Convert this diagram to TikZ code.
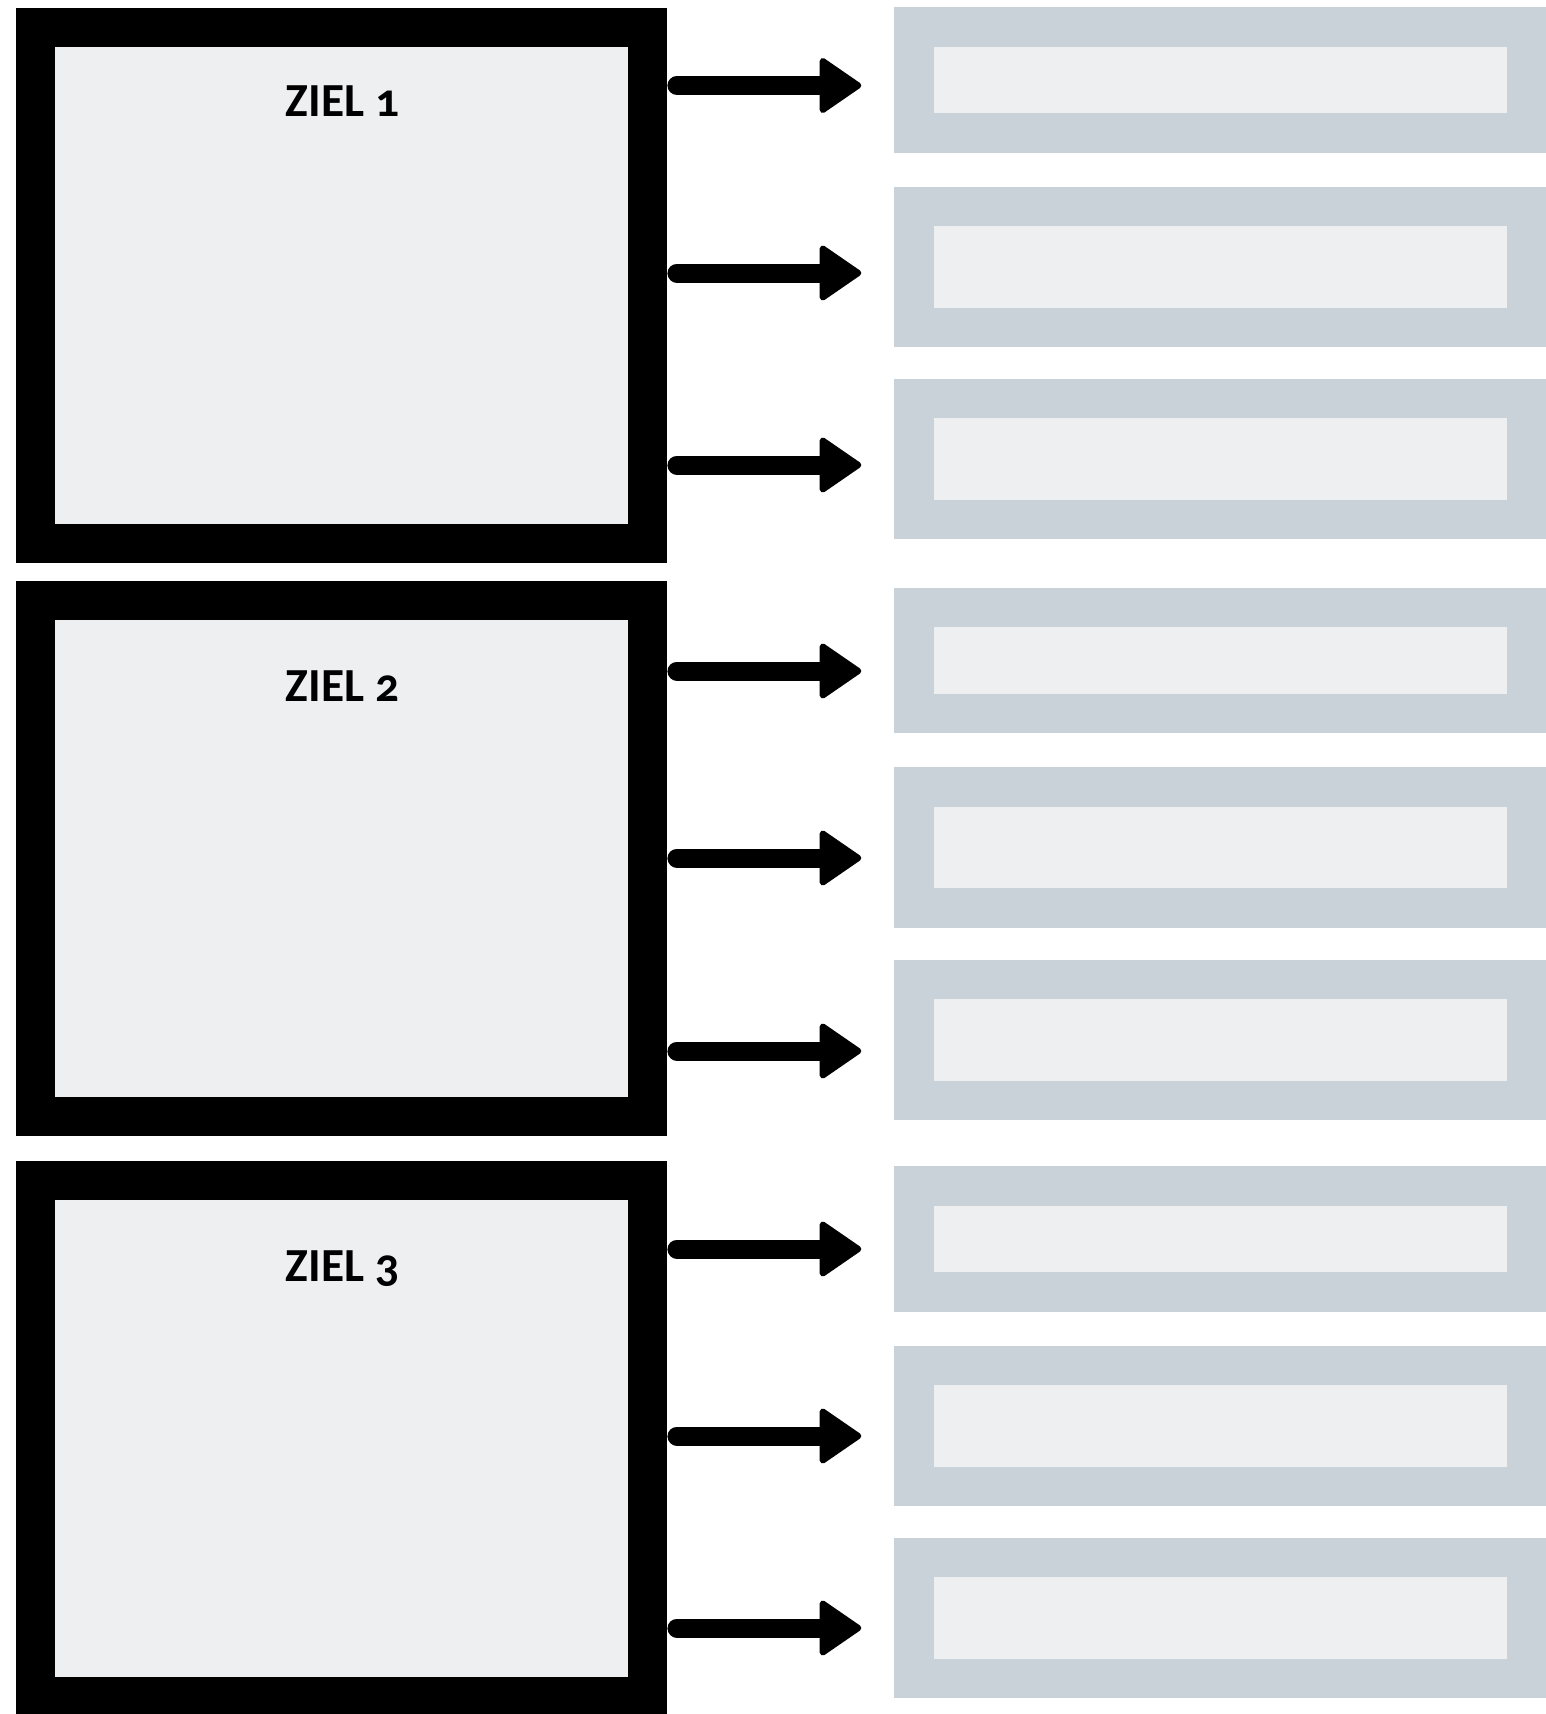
\documentclass[tikz,border=0pt]{standalone}
\usepackage{fontspec}
\setmainfont{Carlito}[Numbers=OldStyle]
\usetikzlibrary{arrows.meta}
\definecolor{boxgrey}{HTML}{EEEFF1}
\definecolor{framegrey}{HTML}{C9D1D9}
\tikzset{
  zielbox/.style={draw=black, fill=boxgrey, line width=0.78cm, minimum width=12.26cm, minimum height=10.32cm, inner sep=0pt},
  slotbox/.style={draw=framegrey, fill=boxgrey, line width=0.79cm, minimum width=12.26cm, inner sep=0pt},
  shortslot/.style={slotbox, minimum height=2.12cm},
  tallslot/.style={slotbox, minimum height=2.42cm},
  zieltext/.style={anchor=base, inner sep=0pt, font=\bfseries\fontsize{27}{32}\selectfont},
  arr/.style={line width=0.38cm, line cap=round, shorten <=0.19cm, shorten >=0.66cm,
    -{Triangle[length=0.88cm, width=1.18cm, round, line width=0.12cm]}}
}
\begin{document}
\begin{tikzpicture}[x=0.02cm, y=-0.02cm]
\useasboundingbox (0,0) rectangle (1545,1714);
% left goal boxes
\node[zielbox] (L1) at (341.5,285.4) {};
\node[zielbox] (L2) at (341.5,858.3) {};
\node[zielbox] (L3) at (341.5,1438.5) {};
\node[zieltext] (T1) at (342.5,116) {ZIEL 1};
\node[zieltext] (T2) at (342.5,701) {ZIEL 2};
\node[zieltext] (T3) at (342.5,1281) {ZIEL 3};
% right slots
\node[shortslot] (R1) at (1220.5,80) {};
\node[tallslot]  (R2) at (1220.5,267) {};
\node[tallslot]  (R3) at (1220.5,458.9) {};
\node[shortslot] (R4) at (1220.5,660.3) {};
\node[tallslot]  (R5) at (1220.5,847.5) {};
\node[tallslot]  (R6) at (1220.5,1039.8) {};
\node[shortslot] (R7) at (1220.5,1238.9) {};
\node[tallslot]  (R8) at (1220.5,1426) {};
\node[tallslot]  (R9) at (1220.5,1618) {};
% arrow heights
\coordinate (y1) at (0,85.5);
\coordinate (y2) at (0,273);
\coordinate (y3) at (0,465);
\coordinate (y4) at (0,671);
\coordinate (y5) at (0,858);
\coordinate (y6) at (0,1051);
\coordinate (y7) at (0,1249);
\coordinate (y8) at (0,1436);
\coordinate (y9) at (0,1628);
\draw[arr] (L1.east |- y1) -- (R1.west |- y1);
\draw[arr] (L1.east |- y2) -- (R2.west |- y2);
\draw[arr] (L1.east |- y3) -- (R3.west |- y3);
\draw[arr] (L2.east |- y4) -- (R4.west |- y4);
\draw[arr] (L2.east |- y5) -- (R5.west |- y5);
\draw[arr] (L2.east |- y6) -- (R6.west |- y6);
\draw[arr] (L3.east |- y7) -- (R7.west |- y7);
\draw[arr] (L3.east |- y8) -- (R8.west |- y8);
\draw[arr] (L3.east |- y9) -- (R9.west |- y9);
\end{tikzpicture}
\end{document}
